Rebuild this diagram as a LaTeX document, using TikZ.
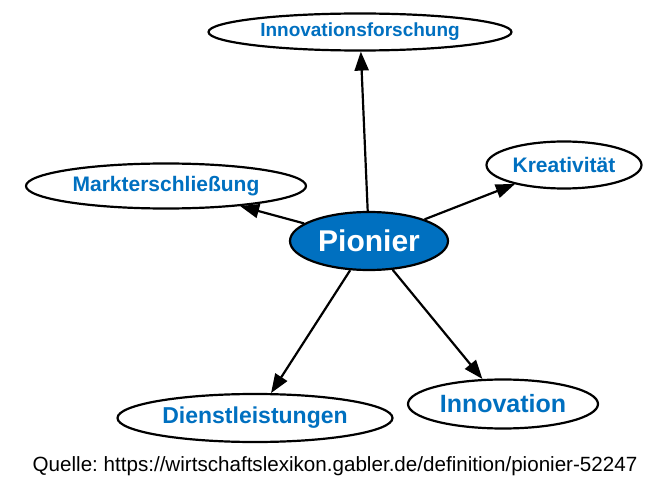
\documentclass[tikz,border=0pt]{standalone}
\usepackage{fontspec}
\setmainfont{Liberation Sans}
\usetikzlibrary{shapes.geometric,arrows.meta}
\definecolor{gblue}{HTML}{0070C0}
\frenchspacing
\tikzset{
  leaf/.style={ellipse,draw=black,line width=2.2pt,fill=white,inner sep=0pt,text=gblue,font=\bfseries},
  hub/.style={ellipse,draw=black,line width=2.2pt,fill=gblue,inner sep=0pt,text=white,font=\bfseries\fontsize{30}{30}\selectfont},
  link/.style={line width=2.2pt,-{Triangle[length=19pt,width=14pt]}}
}
\newcommand{\fsz}[1]{\fontsize{#1}{#1}\selectfont}
\begin{document}
\begin{tikzpicture}[x=1pt,y=-1pt]
\useasboundingbox (0,0) rectangle (670,500);
\node[hub,minimum width=158pt,minimum height=58pt] (P) at (369,241) {Pionier};
\node[leaf,minimum width=303pt,minimum height=37pt] (IF) at (360,32) {\fsz{19}Innovationsforschung};
\node[leaf,minimum width=280pt,minimum height=45pt] (M) at (166,186) {\fsz{21}Markterschließung};
\node[leaf,minimum width=155pt,minimum height=47pt] (K) at (564,165) {\fsz{21}Kreativität};
\node[leaf,minimum width=275pt,minimum height=48pt] (D) at (255,418) {\fsz{23}Dienstleistungen};
\node[leaf,minimum width=190pt,minimum height=49pt] (I) at (503,404) {\fsz{25}Innovation};
\draw[link] (P) -- (IF);
\draw[link] (P) -- (M);
\draw[link] (P) -- (K);
\draw[link] (P) -- (D);
\draw[link] (P) -- (I);
\node[inner sep=0pt,font=\fsz{20.6}] (Q) at (335,466) {Quelle: https://wirtschaftslexikon.gabler.de/definition/pionier-52247};
\end{tikzpicture}
\end{document}
